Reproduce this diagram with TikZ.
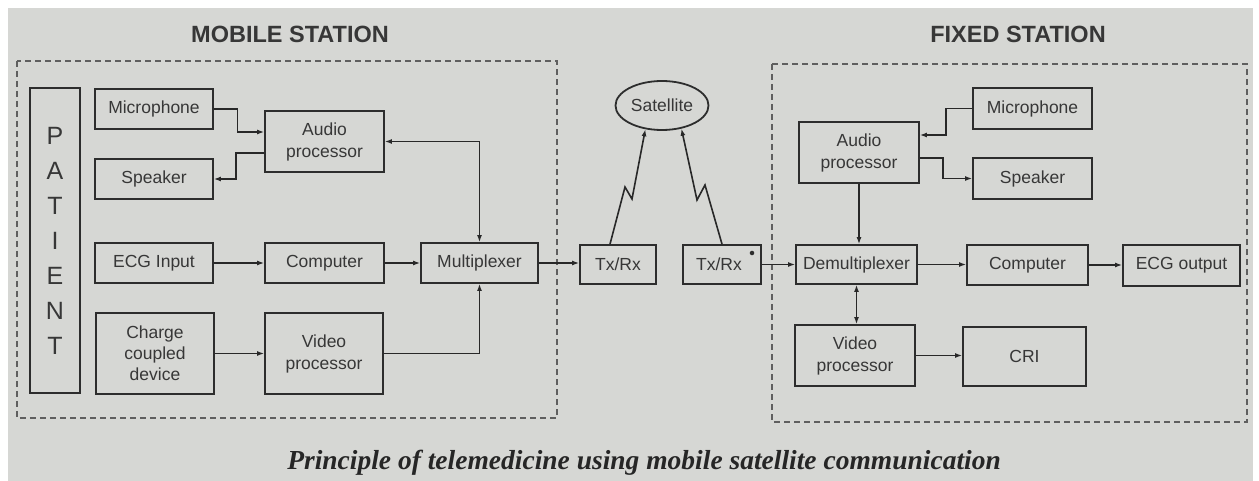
\documentclass[tikz,border=0pt]{standalone}
\usepackage{fontspec}
\usetikzlibrary{arrows.meta,shapes.geometric}
\newfontfamily\arialf{Liberation Sans}
\newfontfamily\capf{Liberation Serif}
\definecolor{bgc}{RGB}{214,215,212}
\definecolor{boxc}{RGB}{45,45,45}
\definecolor{txtc}{RGB}{55,55,55}
\definecolor{linec}{RGB}{40,40,40}
\definecolor{dashc}{RGB}{95,95,95}
\newcommand\labf{\arialf\fontsize{17.5}{22}\selectfont}
\tikzset{
  blk/.style={draw=boxc, line width=1.8pt, rectangle, inner sep=0pt, align=center, font=\labf, text=txtc},
  arr/.style={draw=linec, line width=1.6pt, -{Latex[length=7pt,width=5pt]}},
  arrb/.style={draw=linec, line width=1.6pt, {Latex[length=7pt,width=5pt]}-{Latex[length=7pt,width=5pt]}},
  zone/.style={draw=dashc, line width=1.1pt, dash pattern=on 6pt off 4pt},
  ttl/.style={font=\arialf\bfseries\fontsize{23.5}{28}\selectfont, text=txtc},
}
\begin{document}
\begin{tikzpicture}[x=1pt,y=-1pt]
\useasboundingbox (0,0) rectangle (1259,481);
\fill[white] (0,0) rectangle (1259,481);
\fill[bgc] (8,8) rectangle (1253,481);

% titles
\node[ttl] (tmob) at (290,34) {MOBILE STATION};
\node[ttl] (tfix) at (1018,34) {FIXED STATION};

% zones
\draw[zone] (17,61) rectangle (557,418);
\draw[zone] (772,64) rectangle (1247,422);

% mobile station
\node[blk, minimum width=50, minimum height=305, font=\arialf\fontsize{25}{35}\selectfont] (pat) at (55,240.5) {P\\A\\T\\I\\E\\N\\T};
\node[blk, minimum width=118, minimum height=40] (mic1) at (154,109) {Microphone};
\node[blk, minimum width=118, minimum height=40] (spk1) at (154,179) {Speaker};
\node[blk, minimum width=119, minimum height=61] (aud1) at (324.5,141.5) {Audio\\processor};
\node[blk, minimum width=118, minimum height=40] (ecg1) at (154,263) {ECG Input};
\node[blk, minimum width=119, minimum height=40] (comp1) at (324.5,263) {Computer};
\node[blk, minimum width=117, minimum height=40] (mux) at (479.5,263) {Multiplexer};
\node[blk, minimum width=118, minimum height=81, font=\arialf\fontsize{17.5}{21}\selectfont] (ccd) at (155,353.5) {Charge\\coupled\\device};
\node[blk, minimum width=118, minimum height=81] (vid1) at (324,353.5) {Video\\processor};

% link
\node[blk, minimum width=76, minimum height=39] (txl) at (618,264.5) {Tx/Rx};
\node[blk, minimum width=78, minimum height=39] (txr) at (722,264.5) {Tx/Rx\hspace{6pt}};
\node[circle, fill=boxc, inner sep=1.6pt] (dot) at (752,253) {};
\node[draw=boxc, line width=1.8pt, ellipse, minimum width=93, minimum height=49, inner sep=0pt, font=\labf, text=txtc] (sat) at (662,105.5) {Satellite};

% fixed station
\node[blk, minimum width=120, minimum height=61] (aud2) at (859,152.5) {Audio\\processor};
\node[blk, minimum width=119, minimum height=41] (mic2) at (1032.5,108.5) {Microphone};
\node[blk, minimum width=119, minimum height=41] (spk2) at (1032.5,178.5) {Speaker};
\node[blk, minimum width=121, minimum height=39] (dmx) at (856.5,264.5) {Demultiplexer};
\node[blk, minimum width=121, minimum height=40] (comp2) at (1027.5,265) {Computer};
\node[blk, minimum width=117, minimum height=41] (ecgo) at (1181.5,265.5) {ECG output};
\node[blk, minimum width=120, minimum height=61] (vid2) at (855,355.5) {Video\\processor};
\node[blk, minimum width=123, minimum height=59] (cri) at (1024.5,356.5) {CRI};

% mobile connectors
\draw[arr] (mic1.east) -- ++(23.5,0) |- ([yshift=9.5pt]aud1.west);
\draw[arr] ([yshift=-11.5pt]aud1.west) -- ++(-28,0) |- (spk1.east);
\draw[arrb] (aud1.east) -| (mux.north);
\draw[arr] (ecg1.east) -- (comp1.west);
\draw[arr] (comp1.east) -- (mux.west);
\draw[arr] (mux.east) -- (txl.west |- mux.east);
\draw[arr] (ccd.east) -- (vid1.west);
\draw[arr] (vid1.east) -| (mux.south);

% radio links
\draw[arr] ([xshift=-8pt]txl.north) -- (625,187) -- (632,199) -- (sat.235);
\draw[arr] (txr.north) -- (705,185) -- (697,200) -- (sat.-50);
\draw[arr] (txr.east) -- (dmx.west |- txr.east);

% fixed connectors
\draw[arr] (mic2.west) -- ++(-26,0) |- ([yshift=17.5pt]aud2.east);
\draw[arr] ([yshift=-5.5pt]aud2.east) -- ++(23,0) |- (spk2.west);
\draw[arr] (aud2.south) -- (aud2.south |- dmx.north);
\draw[arr] (dmx.east) -- (comp2.west |- dmx.east);
\draw[arr] (comp2.east) -- (ecgo.west |- comp2.east);
\draw[arrb] (dmx.south) -- (dmx.south |- vid2.north);
\draw[arr] (vid2.east) -- (cri.west |- vid2.east);

% caption
\node[font=\capf\bfseries\itshape\fontsize{27.5}{32}\selectfont, text=black!85] (cap) at (644,463) {Principle of telemedicine using mobile satellite communication};
\end{tikzpicture}
\end{document}
